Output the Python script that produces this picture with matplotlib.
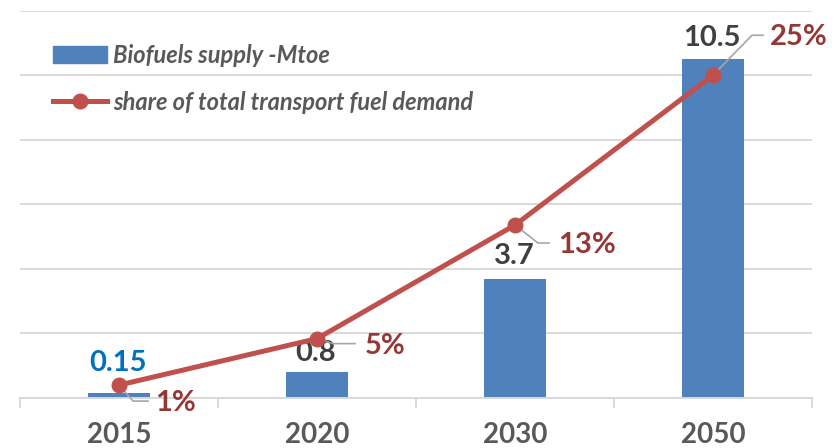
import numpy as np
import matplotlib
matplotlib.use("Agg")
import matplotlib.pyplot as plt
from matplotlib.lines import Line2D
from matplotlib.patches import Patch

plt.rcParams['font.family'] = ['Lato', 'DejaVu Sans']

# data
years = ['2015', '2020', '2030', '2050']
supply = [0.15, 0.8, 3.7, 10.5]          # Mtoe
share = [1.0, 4.6, 13.4, 25.0]           # % of transport fuel demand
supply_labels = ['0.15', '0.8', '3.7', '10.5']

bar_col = '#4f81bd'
line_col = '#c0504d'
pct_col = '#953735'
grid_col = '#d9d9d9'

W, H = 836, 448
fig = plt.figure(figsize=(W / 100, H / 100), dpi=100)
ax = fig.add_axes([20 / W, (H - 398) / H, (812 - 20) / W, (398 - 10.7) / H])
ax2 = ax.twinx()

x = np.arange(len(years))
ax.bar(x, supply, width=0.31, color=bar_col, zorder=2)
ax.set_xlim(-0.5, len(years) - 0.5)
ax.set_ylim(0, 12)
ax.set_yticks(np.arange(0, 13, 2))
ax.yaxis.grid(True, color=grid_col, lw=1.4, zorder=0)
ax.set_axisbelow(True)
ax.tick_params(axis='y', left=False, labelleft=False)
for s in ['top', 'right', 'left']:
    ax.spines[s].set_visible(False)
ax.spines['bottom'].set_color(grid_col)
ax.spines['bottom'].set_linewidth(1.4)

ax.set_xticks(x)
ax.set_xticklabels(years, fontsize=20, fontweight='bold', color='#595959')
ax.tick_params(axis='x', which='major', length=0, pad=17)
ax.set_xticks(np.arange(-0.5, len(years), 1), minor=True)
ax.tick_params(axis='x', which='minor', length=7, width=1.4, color=grid_col)

ax2.plot(x, share, color=line_col, lw=3.6, marker='o', ms=10.5, zorder=3)
ax2.set_ylim(0, 30)
ax2.axis('off')

# bar value labels
bar_off = [30, 19, 23, 21]
bar_txt_col = ['#0070c0', '#404040', '#404040', '#404040']
for i in range(len(years)):
    ax.annotate(supply_labels[i], (x[i], supply[i]), xytext=(-1, bar_off[i]),
                textcoords='offset pixels', ha='center', va='center',
                fontsize=21, fontweight='bold', color=bar_txt_col[i])

# percentage labels with leader lines (pixel offsets from the point)
elbow = [(14, -16), (16, -5), (23, -18), (39, 40)]
end = [(29, -16), (38, -5), (34, -18), (50, 40)]
txt = [(36, -18), (48, -7), (43, -20), (57, 38)]
inv = ax2.transData.inverted()
for i in range(len(years)):
    px, py = ax2.transData.transform((x[i], share[i]))
    pts = [(px, py), (px + elbow[i][0], py + elbow[i][1]), (px + end[i][0], py + end[i][1])]
    d = inv.transform(pts)
    ax2.plot(d[:, 0], d[:, 1], color='#a6a6a6', lw=1.2, zorder=2.5, clip_on=False)
    ax2.annotate('{:.0f}%'.format(share[i]), (x[i], share[i]), xytext=txt[i],
                 textcoords='offset pixels', ha='left', va='center',
                 fontsize=21, fontweight='bold', color=pct_col, annotation_clip=False)

handles = [Patch(color=bar_col),
           Line2D([], [], color=line_col, lw=3.6, marker='o', ms=10.5)]
names = ['Biofuels supply -Mtoe', 'share of total transport fuel demand']
leg = fig.legend(handles, names, loc='upper left',
                 bbox_to_anchor=(53 / W, (H - 44) / H), frameon=False,
                 borderpad=0, borderaxespad=0, handlelength=2.3,
                 handletextpad=0.25, labelspacing=1.0,
                 prop={'size': 17, 'weight': 'bold', 'style': 'italic'})
for t in leg.get_texts():
    t.set_color('#595959')

fig.savefig('out.png', dpi=100)
